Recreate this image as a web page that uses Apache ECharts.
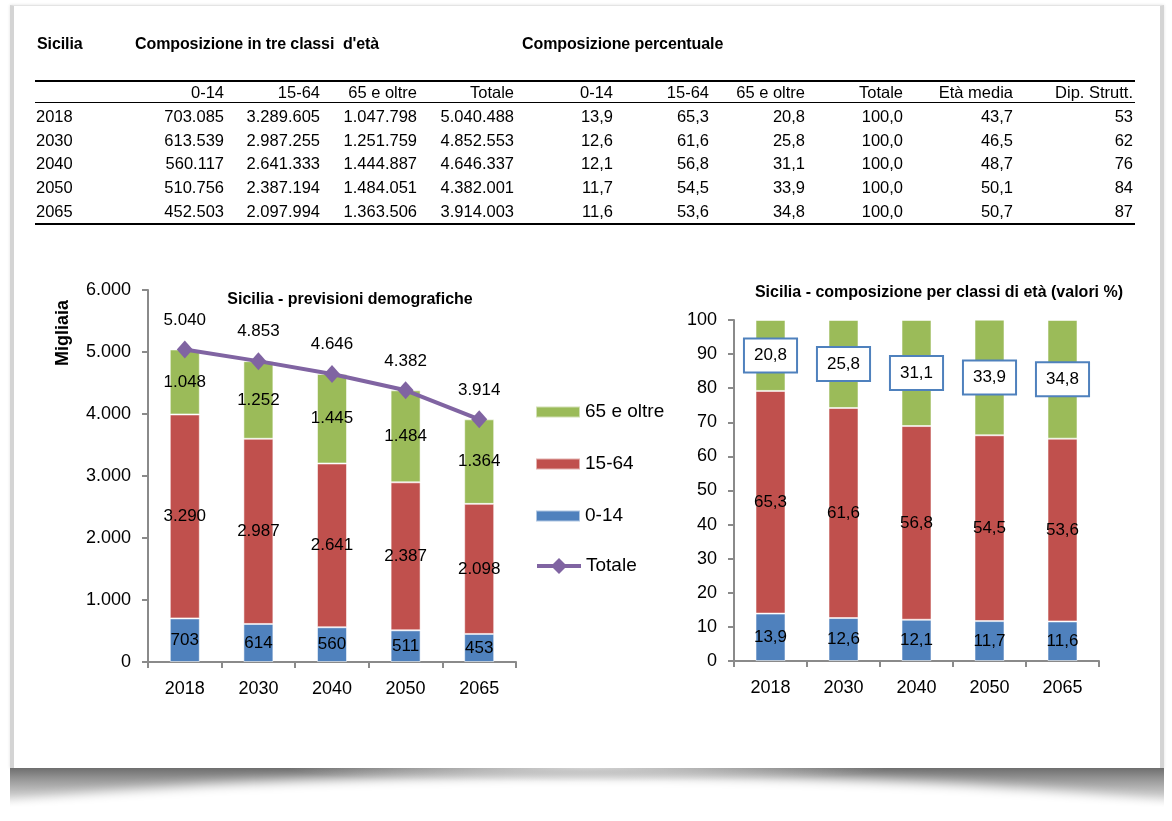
<!DOCTYPE html>
<html>
<head>
<meta charset="utf-8">
<script src="https://cdn.jsdelivr.net/npm/echarts@6/dist/echarts.min.js"></script>
<style>
html,body{margin:0;padding:0;width:1172px;height:821px;background:#fff;overflow:hidden;font-family:"Liberation Sans",Arial,sans-serif;}
#card{position:absolute;left:10px;top:5px;width:1146px;height:762px;background:#fff;border-left:4px solid #d4d4d4;border-right:4px solid #d4d4d4;border-top:1px solid #e4e4e4;box-shadow:0 0 3px rgba(0,0,0,0.12);}
#shadow{position:absolute;left:10px;top:768px;width:1154px;height:40px;overflow:hidden;background:linear-gradient(to bottom,#6e6e6e 0%,#9a9a9a 30%,#c8c8c8 65%,#ffffff 100%);}
#shadowmask{position:absolute;left:-160px;top:7px;width:1474px;height:150px;border-radius:50%;background:#fff;filter:blur(6px);}
#shadowlight{position:absolute;left:277px;top:0;width:600px;height:14px;background:radial-gradient(ellipse 50% 100% at 50% 0%,rgba(215,215,215,0.95) 0%,rgba(215,215,215,0) 100%);}
#table{position:absolute;left:0;top:0;width:1172px;height:240px;z-index:2;}
.cell{position:absolute;white-space:pre;font-size:16.5px;line-height:20px;color:#000;}
.hdr{position:absolute;white-space:pre;font-size:16px;font-weight:bold;line-height:20px;letter-spacing:-0.1px;color:#000;}
.hline{position:absolute;background:#000;}
#chart{position:absolute;left:0;top:0;width:1172px;height:821px;z-index:1;}
</style>
</head>
<body>
<div id="card"></div>
<div id="shadow"><div id="shadowmask"></div><div id="shadowlight"></div></div>
<div id="table"></div>
<div id="chart"></div>
<script>
// ---- data ----
const years = ['2018', '2030', '2040', '2050', '2065'];
const pop014 = [703085, 613539, 560117, 510756, 452503];
const pop1564 = [3289605, 2987255, 2641333, 2387194, 2097994];
const pop65 = [1047798, 1251759, 1444887, 1484051, 1363506];
const popTot = [5040488, 4852553, 4646337, 4382001, 3914003];
const pct014 = [13.9, 12.6, 12.1, 11.7, 11.6];
const pct1564 = [65.3, 61.6, 56.8, 54.5, 53.6];
const pct65 = [20.8, 25.8, 31.1, 33.9, 34.8];
const pctTot = [100.0, 100.0, 100.0, 100.0, 100.0];
const etaMedia = [43.7, 46.5, 48.7, 50.1, 50.7];
const dipStrutt = [53, 62, 76, 84, 87];
const tableHeaders = ['0-14', '15-64', '65 e oltre', 'Totale', '0-14', '15-64', '65 e oltre', 'Totale', 'Età media', 'Dip. Strutt.'];
const tableTitles = ['Sicilia', 'Composizione in tre classi  d\'età', 'Composizione percentuale'];
const seriesNames = ['0-14', '15-64', '65 e oltre', 'Totale'];
const chartTitles = ['Sicilia - previsioni demografiche', 'Sicilia - composizione per classi di età (valori %)'];
const yAxisName = 'Migliaia';

// ---- helpers ----
function fmtInt(n) { return Math.round(n).toString().replace(/\B(?=(\d{3})+(?!\d))/g, '.'); }
function fmtDec(v) { return v.toFixed(1).replace('.', ','); }

// ---- table ----
(function buildTable() {
  const t = document.getElementById('table');
  function add(cls, text, style) {
    const d = document.createElement('div');
    d.className = cls; d.textContent = text;
    Object.assign(d.style, style);
    t.appendChild(d);
  }
  add('hdr', tableTitles[0], {left: '37px', top: '34px'});
  add('hdr', tableTitles[1], {left: '135px', top: '34px'});
  add('hdr', tableTitles[2], {left: '522px', top: '34px'});
  const colRight = [224, 320, 417, 514, 613, 709, 805, 903, 1013, 1133];
  const rowY = [115.7, 139.5, 163.3, 187.2, 211.0];
  tableHeaders.forEach((h, i) => add('cell', h, {right: (1172 - colRight[i]) + 'px', top: (91.7 - 10) + 'px'}));
  years.forEach((y, r) => {
    const vals = [fmtInt(pop014[r]), fmtInt(pop1564[r]), fmtInt(pop65[r]), fmtInt(popTot[r]),
      fmtDec(pct014[r]), fmtDec(pct1564[r]), fmtDec(pct65[r]), fmtDec(pctTot[r]), fmtDec(etaMedia[r]), String(dipStrutt[r])];
    add('cell', y, {left: '36px', top: (rowY[r] - 10) + 'px'});
    vals.forEach((v, i) => add('cell', v, {right: (1172 - colRight[i]) + 'px', top: (rowY[r] - 10) + 'px'}));
  });
  add('hline', '', {left: '35px', top: '79.5px', width: '1100px', height: '2.5px'});
  add('hline', '', {left: '35px', top: '102px', width: '1100px', height: '1.3px'});
  add('hline', '', {left: '35px', top: '222.5px', width: '1100px', height: '2.5px'});
})();

// ---- chart ----
const C_BLUE = '#4F81BD', C_RED = '#C0504D', C_GREEN = '#9BBB59', C_PURPLE = '#8064A2';
const axisColor = '#8a8a8a';
const chart = echarts.init(document.getElementById('chart'), null, {renderer: 'canvas'});

function xAx(gi) {
  return {
    type: 'category', gridIndex: gi, data: years,
    axisLine: {lineStyle: {color: axisColor, width: 2}},
    axisTick: {show: true, length: 6, lineStyle: {color: axisColor, width: 2}},
    axisLabel: {fontSize: 18, color: '#000', margin: 18, fontFamily: 'Liberation Sans'}
  };
}
function yAx(gi, max, interval, fmt) {
  return {
    type: 'value', gridIndex: gi, min: 0, max: max, interval: interval,
    axisLine: {show: true, lineStyle: {color: axisColor, width: 2}},
    axisTick: {show: true, length: 6, lineStyle: {color: axisColor, width: 2}},
    splitLine: {show: false},
    axisLabel: {fontSize: 18, color: '#000', margin: 17, formatter: fmt, fontFamily: 'Liberation Sans'}
  };
}
function barS(name, data, color, xi, stack, labelFmt, extraLabel) {
  return {
    name: name, type: 'bar', stack: stack, xAxisIndex: xi, yAxisIndex: xi,
    data: data, barWidth: 30,
    itemStyle: {color: color, borderColor: 'rgba(255,255,255,0.55)', borderWidth: 1},
    label: Object.assign({show: true, position: 'inside', color: '#000', fontSize: 17, fontFamily: 'Liberation Sans', formatter: p => labelFmt(p.value)}, extraLabel || {})
  };
}

const option = {
  animation: false,
  backgroundColor: 'transparent',
  textStyle: {fontFamily: 'Liberation Sans'},
  title: [
    {text: chartTitles[0], left: 345, top: 287, textAlign: 'center', textStyle: {fontSize: 16, fontWeight: 'bold', color: '#000', fontFamily: 'Liberation Sans'}},
    {text: chartTitles[1], left: 934, top: 280, textAlign: 'center', textStyle: {fontSize: 16, fontWeight: 'bold', color: '#000', fontFamily: 'Liberation Sans'}}
  ],
  grid: [
    {left: 148, top: 290, width: 368, height: 372},
    {left: 734, top: 320, width: 365, height: 341}
  ],
  xAxis: [xAx(0), xAx(1)],
  yAxis: [yAx(0, 6000, 1000, v => fmtInt(v)), yAx(1, 100, 10, v => String(v))],
  legend: [{
    orient: 'vertical', left: 530, top: 397, itemWidth: 44, itemHeight: 11, itemGap: 32,
    textStyle: {fontSize: 19, color: '#000', lineHeight: 20, fontFamily: 'Liberation Sans'},
    data: [
      {name: seriesNames[2], icon: 'rect'},
      {name: seriesNames[1], icon: 'rect'},
      {name: seriesNames[0], icon: 'rect'}
    ]
  }, {
    orient: 'vertical', left: 530, top: 551, itemWidth: 44, itemHeight: 20,
    lineStyle: {width: 4},
    textStyle: {fontSize: 19, color: '#000', lineHeight: 20, fontFamily: 'Liberation Sans'},
    data: [{name: seriesNames[3]}]
  }],
  graphic: [{
    type: 'text', x: 63, y: 333, rotation: Math.PI / 2,
    style: {text: yAxisName, font: 'bold 18px "Liberation Sans"', fill: '#000', align: 'center', verticalAlign: 'middle'}
  }],
  series: [
    barS(seriesNames[0], pop014.map(v => v / 1000), C_BLUE, 0, 'abs', fmtInt),
    barS(seriesNames[1], pop1564.map(v => v / 1000), C_RED, 0, 'abs', fmtInt),
    barS(seriesNames[2], pop65.map(v => v / 1000), C_GREEN, 0, 'abs', fmtInt),
    {
      name: seriesNames[3], type: 'line', xAxisIndex: 0, yAxisIndex: 0,
      data: popTot.map(v => v / 1000),
      symbol: 'diamond', symbolSize: [16, 18],
      lineStyle: {color: C_PURPLE, width: 4},
      itemStyle: {color: C_PURPLE},
      label: {show: true, position: 'top', distance: 12, color: '#000', fontSize: 17, fontFamily: 'Liberation Sans', formatter: p => fmtInt(p.value)},
      z: 10
    },
    barS(seriesNames[0], pct014, C_BLUE, 1, 'pct', fmtDec),
    barS(seriesNames[1], pct1564, C_RED, 1, 'pct', fmtDec),
    barS(seriesNames[2], pct65, C_GREEN, 1, 'pct', fmtDec, {
      backgroundColor: '#fff', borderColor: C_BLUE, borderWidth: 2, padding: [6, 9], lineHeight: 20
    })
  ]
};
chart.setOption(option);
</script>
</body>
</html>
